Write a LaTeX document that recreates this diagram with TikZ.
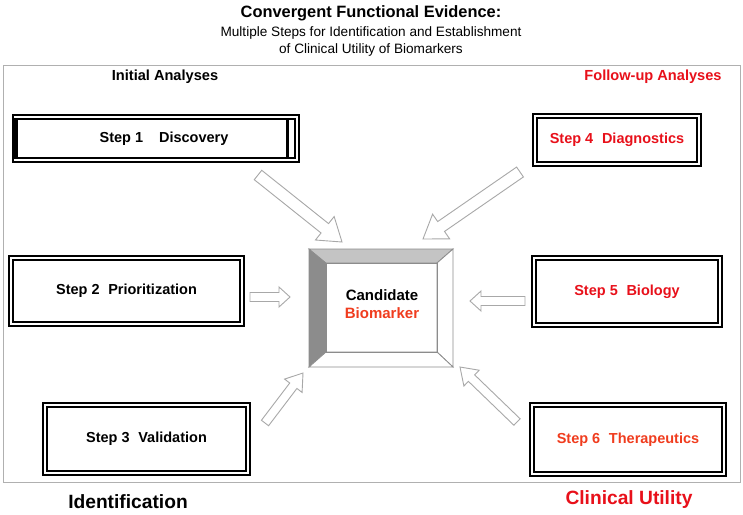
\documentclass[tikz,border=0pt]{standalone}
\usepackage{fontspec}
\setmainfont{Liberation Sans}
\usetikzlibrary{calc}
\definecolor{myred}{HTML}{E8101A}
\definecolor{myorange}{HTML}{F03C1E}
\definecolor{arrowgray}{HTML}{A8A8A8}
\definecolor{framegray}{HTML}{B0B0B0}
\definecolor{bevdark}{HTML}{8C8C8C}
\definecolor{bevmid}{HTML}{C4C4C4}
\newcommand{\blockarrow}[5]{%
  \path ($(#2)!#5pt!(#1)$) coordinate (hb);
  \draw[barrow] ($(#1)!#3pt!90:(#2)$) -- ($(hb)!#3pt!-90:(#1)$) -- ($(hb)!#4pt!-90:(#1)$) -- (#2)
     -- ($(hb)!#4pt!90:(#1)$) -- ($(hb)!#3pt!90:(#1)$) -- ($(#1)!#3pt!-90:(#2)$) -- cycle;}
\begin{document}
\begin{tikzpicture}[x=1pt,y=-1pt,
  stepbox/.style={draw=black, line width=2pt, double=white, double distance=1.6pt, fill=white,
     font=\bfseries\fontsize{14.5}{16}\selectfont, inner sep=0pt},
  barrow/.style={draw=arrowgray, line width=0.9pt, fill=white, line join=miter},
  head/.style={font=\bfseries\fontsize{14.6}{17}\selectfont},
  foot/.style={font=\bfseries\fontsize{19.2}{22}\selectfont}]
\useasboundingbox[fill=white] (0,0) rectangle (743,514);

% titles
\node[font=\bfseries\fontsize{16.4}{19}\selectfont] (title) at (371,13) {Convergent Functional Evidence:};
\node[font=\fontsize{13.6}{17}\selectfont, align=center] (sub) at (371,41) {Multiple Steps for Identification and Establishment\\of Clinical Utility of Biomarkers};

% outer frame
\draw[framegray, line width=1pt] (3,65) rectangle (740,482);

\node[head] (ia) at (165,77) {Initial Analyses};
\node[head, text=myred] (fa) at (653,77) {Follow-up Analyses};
\node[foot] (idf) at (128,502) {Identification};
\node[foot, text=myred] (cu) at (629,500) {Clinical Utility};

% step boxes
\node[stepbox, minimum width=282.5pt, minimum height=43.5pt] (s1) at (156,138.5) {\hspace{16pt}Step 1\hspace{1.1em}Discovery};
\fill[black] ($(s1.north west)+(0,2)$) rectangle ($(s1.south west)+(4.5,-2)$);
\fill[black] ($(s1.north east)+(-12,3)$) rectangle ($(s1.south east)+(-9,-3)$);
\node[stepbox, minimum width=231.5pt, minimum height=66.5pt] (s2) at (126.5,291) {Step 2\hspace{0.6em}Prioritization\hspace{10pt}};
\node[stepbox, minimum width=203.5pt, minimum height=68.5pt] (s3) at (146.5,439) {Step 3\hspace{0.6em}Validation};
\node[stepbox, minimum width=164.5pt, minimum height=48.5pt, text=myred] (s4) at (617,140) {Step 4\hspace{0.6em}Diagnostics};
\node[stepbox, minimum width=186.5pt, minimum height=67.5pt, text=myred] (s5) at (627,291.5) {Step 5\hspace{0.6em}Biology};
\node[stepbox, minimum width=192.5pt, minimum height=69.5pt, text=myorange] (s6) at (628,439.5) {Step 6\hspace{0.6em}Therapeutics};

% candidate bevel frame
\coordinate (o1) at (309,249); \coordinate (o2) at (453,249);
\coordinate (o3) at (453,367); \coordinate (o4) at (309,367);
\coordinate (i1) at (326,263); \coordinate (i2) at (437,263);
\coordinate (i3) at (437,352); \coordinate (i4) at (326,352);
\filldraw[fill=bevdark, draw=bevdark, line width=0.8pt] (o1) -- (i1) -- (i4) -- (o4) -- cycle;
\filldraw[fill=bevmid, draw=bevdark, line width=0.8pt] (o1) -- (o2) -- (i2) -- (i1) -- cycle;
\filldraw[fill=white, draw=bevdark, line width=0.8pt] (o2) -- (o3) -- (i3) -- (i2) -- cycle;
\filldraw[fill=white, draw=bevdark, line width=0.8pt] (o4) -- (o3) -- (i3) -- (i4) -- cycle;
\draw[bevdark, line width=0.8pt] (i1) rectangle (i3);
\node[font=\bfseries\fontsize{15}{18}\selectfont, align=center] (cand) at (382,304) {Candidate\\\textcolor{myorange}{Biomarker}};

% block arrows
\coordinate (a1s) at (258,175); \coordinate (a1e) at (342,242);
\coordinate (a4s) at (520,172); \coordinate (a4e) at (423,239);
\coordinate (a2s) at (250,297); \coordinate (a2e) at (290,297);
\coordinate (a5s) at (525,301); \coordinate (a5e) at (470,301);
\coordinate (a3s) at (265,423); \coordinate (a3e) at (303,373);
\coordinate (a6s) at (517,422); \coordinate (a6e) at (460,367);
\blockarrow{a1s}{a1e}{6}{15}{22}
\blockarrow{a4s}{a4e}{6}{15}{22}
\blockarrow{a2s}{a2e}{4.5}{10}{11}
\blockarrow{a5s}{a5e}{4.5}{10}{11}
\blockarrow{a3s}{a3e}{4.5}{11}{16}
\blockarrow{a6s}{a6e}{4.5}{11}{16}
\end{tikzpicture}
\end{document}
